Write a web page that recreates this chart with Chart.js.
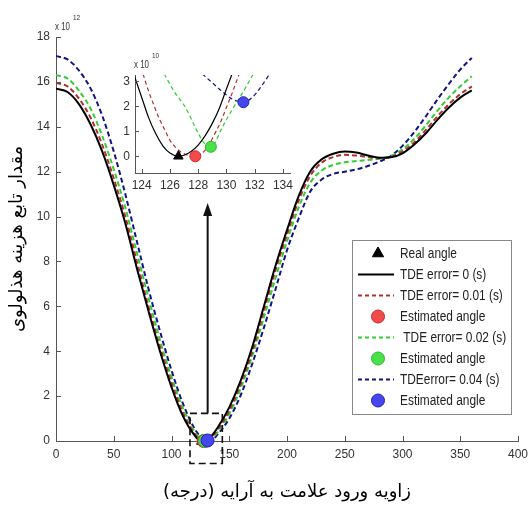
<!DOCTYPE html>
<html>
<head>
<meta charset="utf-8">
<script src="https://cdn.jsdelivr.net/npm/chart.js@4.4.1/dist/chart.umd.min.js"></script>
<style>
body { margin: 0; background: #fff; }
#wrap { position: relative; width: 531px; height: 506px; }
#main { position: absolute; left: 0; top: 0; }
#inset { position: absolute; left: 100px; top: 40px; }
</style>
</head>
<body>
<div id="wrap">
  <canvas id="main" width="531" height="506"></canvas>
  <canvas id="inset" width="200" height="160"></canvas>
</div>
<script>
// main plot, cost in units of 1e12
var angles = [0,10,20,30,40,50,60,70,80,90,100,110,120,125,130,135,140,150,160,170,180,190,200,210,220,230,240,250,260,270,280,290,300,310,320,330,340,350,360];
var tde0   = [15.7,15.55,15.0,14.1,12.9,11.4,9.7,7.7,5.8,4.0,2.4,1.1,0.25,0.02,0.04,0.25,0.6,1.5,2.7,4.2,6.0,7.8,9.4,10.9,12.0,12.55,12.8,12.9,12.85,12.72,12.62,12.64,12.82,13.2,13.7,14.3,14.85,15.3,15.62];
var tde001 = [15.95,15.8,15.25,14.4,13.2,11.7,10.0,8.0,6.0,4.2,2.6,1.25,0.32,0.06,0.01,0.18,0.5,1.35,2.55,4.0,5.8,7.6,9.2,10.7,11.8,12.4,12.65,12.75,12.72,12.65,12.6,12.65,12.9,13.3,13.85,14.45,15.0,15.45,15.8];
var tde002 = [16.3,16.15,15.6,14.8,13.6,12.1,10.4,8.4,6.4,4.5,2.85,1.45,0.42,0.1,0.01,0.12,0.4,1.2,2.35,3.8,5.5,7.25,8.9,10.4,11.5,12.05,12.3,12.42,12.47,12.52,12.58,12.7,13.0,13.45,14.05,14.7,15.3,15.8,16.25];
var tde004 = [17.15,17.0,16.5,15.7,14.5,12.9,11.0,8.9,6.8,4.9,3.15,1.65,0.55,0.2,0.03,0.05,0.3,1.0,2.05,3.45,5.05,6.75,8.5,9.9,11.1,11.65,11.9,12.0,12.1,12.25,12.45,12.7,13.15,13.75,14.45,15.2,15.9,16.55,17.07];
var xTicks = [0,50,100,150,200,250,300,350,400];
var yTicks = [0,2,4,6,8,10,12,14,16,18];

// inset, cost in units of 1e10
var inAng0 = [123.5,124.0,124.5,125.0,125.5,126.0,126.6,127.0,127.5,128.0,128.5,129.0,129.5,130.0,130.4];
var inVal0 = [3.2,2.37,1.54,0.9,0.42,0.13,0,0.04,0.19,0.45,0.83,1.32,1.93,2.7,3.3];
var inAng1 = [124.1,124.5,124.9,125.25,125.6,126.0,126.5,127.2,127.8,128.5,128.9,129.3,129.65,130.0,130.45,130.9];
var inVal1 = [3.3,2.6,2.0,1.5,1.1,0.65,0.3,0.05,0,0.25,0.6,1.04,1.45,1.96,2.6,3.3];
var inAng2 = [125.6,126.3,127.1,127.9,128.4,128.9,129.2,129.6,130.5,131.2,131.9];
var inVal2 = [3.3,2.6,1.96,1.04,0.55,0.38,0.55,1.04,1.96,2.6,3.3];
var inAng4 = [128.3,129.0,129.7,130.4,131.2,131.8,132.4,133.0];
var inVal4 = [3.3,2.95,2.6,2.3,2.17,2.35,2.75,3.25];
var inXTicks = [124,126,128,130,132,134];
var inYTicks = [0,1,2,3];

var realAngle = 126.6;
var estAngles = [127.8, 128.9, 131.2];
var estValues = [0, 0.38, 2.17];   // x 1e10

var xTitle = '\u200Fزاویه ورود علامت به آرایه (درجه)\u200F';
var yTitle = 'مقدار تابع هزینه هذلولوی';

var zoomBox = {x0: 116, x1: 144, y0: -1.0, y1: 1.23};
var arrowAt = {x: 131.3, from: 1.23, to: 10.6};

var sans = '"Liberation Sans", Arial, sans-serif';

function pts(xs, ys, k) {
    return xs.map(function (x, i) { return {x: x, y: ys[i] * k}; });
}

function lineSet(label, xs, ys, color, dash, width) {
    return {
        label: label,
        data: pts(xs, ys, 1),
        borderColor: color,
        backgroundColor: color,
        borderWidth: width,
        borderDash: dash,
        pointRadius: 0,
        fill: false,
        cubicInterpolationMode: 'monotone',
        order: 10
    };
}

function markSet(label, x, y, style, fill, edge, r, order) {
    return {
        label: label,
        data: [{x: x, y: y}],
        showLine: false,
        pointStyle: style,
        pointRadius: r,
        pointBackgroundColor: fill,
        pointBorderColor: edge,
        backgroundColor: fill,
        borderColor: edge,
        pointBorderWidth: 1,
        clip: false,
        order: order
    };
}

function buildSets(isMain, lw, dash, r) {
    var k = isMain ? 0.01 : 1;  // inset values are 1e10, main is 1e12
    return [
        markSet('Real angle', realAngle, 0, 'triangle', '#000', '#000', r, 3),
        lineSet('TDE error= 0 (s)', isMain ? angles : inAng0, isMain ? tde0 : inVal0, '#000', [], lw),
        lineSet('TDE error= 0.01 (s)', isMain ? angles : inAng1, isMain ? tde001 : inVal1, '#b03030', dash, lw),
        markSet('Estimated angle', estAngles[0], estValues[0] * k, 'circle', '#f24b4b', '#c62828', r, 2),
        lineSet(' TDE error= 0.02 (s)', isMain ? angles : inAng2, isMain ? tde002 : inVal2, '#33cc33', dash, lw),
        markSet('Estimated angle', estAngles[1], estValues[1] * k, 'circle', '#4ae04a', '#2eb82e', r, 1),
        lineSet('TDEerror= 0.04 (s)', isMain ? angles : inAng4, isMain ? tde004 : inVal4, '#121280', dash, lw),
        markSet('Estimated angle', estAngles[2], estValues[2] * k, 'circle', '#4646ee', '#2222aa', r, 0)
    ];
}

// the picture's text is a bit condensed
function squeezeText(ctx, text, x, y, sx) {
    ctx.save();
    ctx.translate(x, y);
    ctx.scale(sx, 1);
    ctx.fillText(text, 0, 0);
    ctx.restore();
    return ctx.measureText(text).width * sx;
}

// tick marks pointing into the plot, like matlab
var inwardTicks = {
    id: 'inwardTicks',
    afterDraw: function (chart, args, opts) {
        var ctx = chart.ctx, a = chart.chartArea, len = opts.length;
        ctx.save();
        ctx.strokeStyle = '#555';
        ctx.lineWidth = 1;
        ctx.beginPath();
        chart.scales.x.ticks.forEach(function (t) {
            var px = Math.round(chart.scales.x.getPixelForValue(t.value)) + 0.5;
            ctx.moveTo(px, a.bottom);
            ctx.lineTo(px, a.bottom - len);
        });
        chart.scales.y.ticks.forEach(function (t) {
            var py = Math.round(chart.scales.y.getPixelForValue(t.value)) + 0.5;
            ctx.moveTo(a.left, py);
            ctx.lineTo(a.left + len, py);
        });
        ctx.stroke();

        // "x 10^n" above the y axis
        ctx.fillStyle = '#333';
        ctx.textBaseline = 'alphabetic';
        ctx.textAlign = 'left';
        ctx.font = '11px ' + sans;
        var x = a.left - 1, y = a.top - 7;
        var w = squeezeText(ctx, 'x 10', x, y, 0.72);
        ctx.font = '8px ' + sans;
        squeezeText(ctx, opts.exp, x + w + 3, y - 10, 0.8);
        ctx.restore();
    }
};

var annotations = {
    id: 'annotations',
    afterDatasetsDraw: function (chart) {
        var ctx = chart.ctx, xs = chart.scales.x, ys = chart.scales.y;
        ctx.save();
        ctx.strokeStyle = '#111';
        ctx.lineWidth = 1.6;
        ctx.setLineDash([7, 4]);
        var bx = xs.getPixelForValue(zoomBox.x0), by = ys.getPixelForValue(zoomBox.y1);
        ctx.strokeRect(bx, by, xs.getPixelForValue(zoomBox.x1) - bx, ys.getPixelForValue(zoomBox.y0) - by);
        ctx.setLineDash([]);
        var ax = xs.getPixelForValue(arrowAt.x);
        var top = ys.getPixelForValue(arrowAt.to);
        ctx.lineWidth = 2;
        ctx.beginPath();
        ctx.moveTo(ax, ys.getPixelForValue(arrowAt.from));
        ctx.lineTo(ax, top + 10);
        ctx.stroke();
        ctx.fillStyle = '#111';
        ctx.beginPath();
        ctx.moveTo(ax, top);
        ctx.lineTo(ax - 4.5, top + 13);
        ctx.lineTo(ax + 4.5, top + 13);
        ctx.closePath();
        ctx.fill();
        ctx.restore();
    }
};

var boxLegend = {
    id: 'boxLegend',
    afterDraw: function (chart) {
        var ctx = chart.ctx, a = chart.chartArea;
        var left = a.right - 166, right = a.right - 7, top = a.top + 203, bottom = a.bottom - 27;
        ctx.save();
        ctx.fillStyle = '#fff';
        ctx.fillRect(left, top, right - left, bottom - top);
        ctx.strokeStyle = '#888';
        ctx.lineWidth = 1;
        ctx.strokeRect(Math.round(left) + 0.5, Math.round(top) + 0.5, right - left, bottom - top);
        ctx.font = '14px ' + sans;
        ctx.textBaseline = 'middle';
        ctx.textAlign = 'left';
        chart.data.datasets.forEach(function (ds, i) {
            var y = top + 13.5 + i * 21;
            if (ds.showLine === false) {
                ctx.fillStyle = ds.backgroundColor;
                ctx.strokeStyle = ds.borderColor;
                ctx.lineWidth = 1;
                Chart.helpers.drawPoint(ctx, {pointStyle: ds.pointStyle, radius: 6.5, rotation: 0, borderWidth: 1}, left + 26, y);
            } else {
                ctx.strokeStyle = ds.borderColor;
                ctx.lineWidth = 2;
                ctx.setLineDash(ds.borderDash.length ? [4, 3] : []);
                ctx.beginPath();
                ctx.moveTo(left + 6, y);
                ctx.lineTo(left + 42, y);
                ctx.stroke();
                ctx.setLineDash([]);
            }
            ctx.fillStyle = '#222';
            squeezeText(ctx, ds.label, left + 48, y + 1, 0.85);
        });
        ctx.restore();
    }
};

function tickList(list) {
    return function (scale) {
        scale.ticks = list.map(function (v) { return {value: v}; });
    };
}

function noSidePadding(height) {
    return function (s) {
        s.height = height;
        s.paddingLeft = 0;
        s.paddingRight = 0;
    };
}

var tickFont = {family: sans, size: 12};
var noGrid = {display: false, drawTicks: false};

var mainChart = new Chart(document.getElementById('main').getContext('2d'), {
    type: 'line',
    data: {datasets: buildSets(true, 2, [5, 3], 6.5)},
    plugins: [annotations, inwardTicks, boxLegend],
    options: {
        responsive: false,
        animation: false,
        layout: {padding: {left: 0, top: 37, right: 13, bottom: 0}},
        plugins: {
            legend: {display: false},
            tooltip: {enabled: false},
            inwardTicks: {length: 5, exp: '12'}
        },
        scales: {
            x: {
                type: 'linear', min: 0, max: 400,
                afterBuildTicks: tickList(xTicks),
                afterFit: noSidePadding(65),
                grid: noGrid,
                border: {color: '#555', width: 1},
                ticks: {color: '#333', font: tickFont, padding: 6, maxRotation: 0},
                title: {display: true, text: xTitle, color: '#000',
                        font: {family: '"DejaVu Sans", sans-serif', size: 18}, padding: {top: 0, bottom: 3}}
            },
            y: {
                type: 'linear', min: 0, max: 18,
                afterBuildTicks: tickList(yTicks),
                afterFit: function (s) { s.width = 56; },
                grid: noGrid,
                border: {color: '#555', width: 1},
                ticks: {color: '#333', font: tickFont, padding: 6},
                title: {display: true, text: yTitle, color: '#000',
                        font: {family: '"DejaVu Sans", sans-serif', size: 18}, padding: {top: 7, bottom: 0}}
            }
        }
    }
});

var insetChart = new Chart(document.getElementById('inset').getContext('2d'), {
    type: 'line',
    data: {datasets: buildSets(false, 1.2, [4, 3], 5.5)},
    plugins: [inwardTicks],
    options: {
        responsive: false,
        animation: false,
        layout: {padding: {left: 0, top: 35, right: 10, bottom: 0}},
        plugins: {
            legend: {display: false},
            tooltip: {enabled: false},
            inwardTicks: {length: 4, exp: '10'}
        },
        scales: {
            x: {
                type: 'linear', min: 123.53, max: 134.5,
                afterBuildTicks: tickList(inXTicks),
                afterFit: noSidePadding(27),
                grid: noGrid,
                border: {color: '#555', width: 1},
                ticks: {color: '#333', font: tickFont, padding: 5, maxRotation: 0}
            },
            y: {
                type: 'linear', min: -0.67, max: 3.26,
                afterBuildTicks: tickList(inYTicks),
                afterFit: function (s) { s.width = 35; },
                grid: noGrid,
                border: {color: '#555', width: 1},
                ticks: {color: '#333', font: tickFont, padding: 5}
            }
        }
    }
});
</script>
</body>
</html>
